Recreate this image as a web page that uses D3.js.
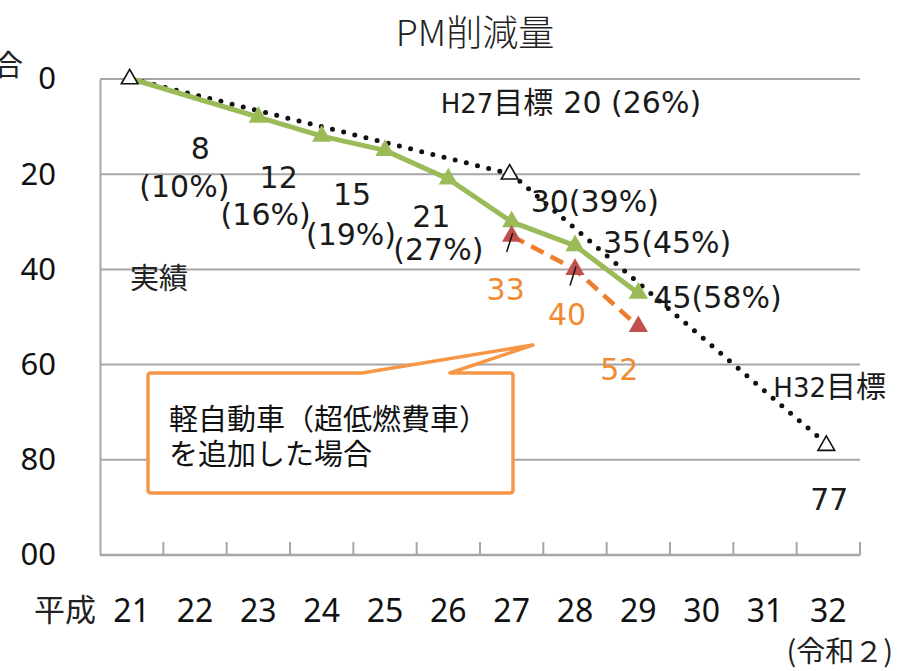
<!DOCTYPE html>
<html>
<head>
<meta charset="utf-8">
<script src="https://cdn.jsdelivr.net/npm/d3@7/dist/d3.min.js"></script>
<style>
  html, body { margin: 0; padding: 0; background: #fff; }
  svg { display: block; }
</style>
</head>
<body>
<main></main>
<script>
// PM reduction chart (H21 - H32)
const years = ['21', '22', '23', '24', '25', '26', '27', '28', '29', '30', '31', '32'];
const actual = [0, null, 8, 12, 15, 21, 30, 35, 45, null, null, null];
const withKei = [null, null, null, null, null, null, 33, 40, 52, null, null, null];
const target = [0, null, null, null, null, null, 20, null, null, null, null, 77];
const yTicks = [0, 20, 40, 60, 80, 100];

// value labels: [year, value, text]
const actualLabels = [
  ['23', 8, '8', '(10%)'],
  ['24', 12, '12', '(16%)'],
  ['25', 15, '15', '(19%)'],
  ['26', 21, '21', '(27%)']
];
const actualLabelsRight = [
  ['27', 30, '30(39%)'],
  ['28', 35, '35(45%)'],
  ['29', 45, '45(58%)']
];
const keiLabels = [['27', 33, '33'], ['28', 40, '40'], ['29', 52, '52']];

const WIDTH = 897, HEIGHT = 671;
const plot = { left: 100, right: 860, top: 79, bottom: 555 };

const NUM_FONT = '"DejaVu Sans", "Noto Sans CJK JP", sans-serif';
const JP_FONT = '"Noto Sans CJK JP", "Noto Sans", sans-serif';
const TICK_FONT = '"Noto Sans", "Noto Sans CJK JP", sans-serif';

const GREEN = '#9bbb59', RED = '#c0504d', ORANGE = '#ee7d2c', ORANGE_TXT = '#f08a33', GRID = '#a6a6a6';

const svg = d3.select('main')
  .append('svg')
  .attr('width', WIDTH)
  .attr('height', HEIGHT);

const x = d3.scaleBand()
  .domain(years)
  .range([plot.left, plot.right]);
const cx = d => x(d) + x.bandwidth() / 2;

const y = d3.scaleLinear()
  .domain([0, 100])
  .range([plot.top, plot.bottom]);

// left side is cropped in the original picture (clip in y-axis group coords)
svg.append('defs').append('clipPath')
  .attr('id', 'leftcrop')
  .append('rect')
  .attr('x', 17 - plot.left).attr('y', -20).attr('width', 90).attr('height', HEIGHT + 40);

// gridlines
svg.append('g')
  .selectAll('line')
  .data(yTicks.filter(d => d < 100))
  .enter()
  .append('line')
  .attr('x1', plot.left).attr('x2', plot.right)
  .attr('y1', d => y(d)).attr('y2', d => y(d))
  .attr('stroke', GRID)
  .attr('stroke-width', 2);

// y axis
const yAxis = svg.append('g')
  .attr('transform', `translate(${plot.left},0)`)
  .attr('clip-path', 'url(#leftcrop)')
  .call(d3.axisLeft(y).tickValues(yTicks).tickSize(0).tickPadding(44));
yAxis.select('.domain').attr('stroke', GRID).attr('stroke-width', 2);
yAxis.selectAll('text')
  .attr('font-family', TICK_FONT)
  .attr('font-size', 31)
  .attr('fill', '#111');

// x axis with inward ticks at band edges
const xAxis = svg.append('g')
  .attr('transform', `translate(0,${plot.bottom})`);
xAxis.append('line')
  .attr('x1', plot.left).attr('x2', plot.right)
  .attr('stroke', GRID).attr('stroke-width', 2.5);
xAxis.selectAll('line.tick')
  .data(years.slice(1).concat(['end']))
  .enter()
  .append('line')
  .attr('class', 'tick')
  .attr('x1', d => d === 'end' ? plot.right : x(d))
  .attr('x2', d => d === 'end' ? plot.right : x(d))
  .attr('y1', 0).attr('y2', -13)
  .attr('stroke', GRID).attr('stroke-width', 2);
xAxis.selectAll('text')
  .data(years)
  .enter()
  .append('text')
  .attr('x', d => cx(d))
  .attr('y', 67)
  .attr('text-anchor', 'middle')
  .attr('font-family', TICK_FONT)
  .attr('font-size', 32)
  .attr('fill', '#111')
  .text(d => d);

svg.append('text')
  .attr('x', 96).attr('y', 621)
  .attr('text-anchor', 'end')
  .attr('font-family', JP_FONT)
  .attr('font-size', 31)
  .attr('fill', '#222')
  .text('平成');

svg.append('text')
  .attr('x', 893).attr('y', 662)
  .attr('text-anchor', 'end')
  .attr('font-family', JP_FONT)
  .attr('font-size', 29)
  .attr('fill', '#222')
  .text('(令和２)');

// cropped axis caption at top left
svg.append('text')
  .attr('x', -6).attr('y', 76)
  .attr('font-family', JP_FONT)
  .attr('font-size', 29)
  .attr('fill', '#222')
  .text('合');

// title
svg.append('text')
  .attr('x', 475).attr('y', 46)
  .attr('text-anchor', 'middle')
  .attr('font-family', JP_FONT)
  .attr('font-weight', 300)
  .attr('font-size', 36)
  .attr('fill', '#222')
  .text('PM削減量');

const toPoints = arr => years.map((yr, i) => ({ yr, v: arr[i] })).filter(d => d.v !== null);

const line = d3.line()
  .x(d => cx(d.yr))
  .y(d => y(d.v));

// target dotted line
svg.append('path')
  .datum(toPoints(target))
  .attr('d', line)
  .attr('fill', 'none')
  .attr('stroke', '#111')
  .attr('stroke-width', 5)
  .attr('stroke-linecap', 'round')
  .attr('stroke-dasharray', '0 11.5');

// actual green line
svg.append('path')
  .datum(toPoints(actual))
  .attr('d', line)
  .attr('fill', 'none')
  .attr('stroke', GREEN)
  .attr('stroke-width', 5)
  .attr('stroke-linejoin', 'round');

// orange dashed (kei cars added)
svg.append('path')
  .datum(toPoints(withKei))
  .attr('d', line)
  .attr('fill', 'none')
  .attr('stroke', ORANGE)
  .attr('stroke-width', 4.5)
  .attr('stroke-dasharray', '14 8');

const tri = d3.symbol().type(d3.symbolTriangle);

svg.append('g')
  .selectAll('path')
  .data(toPoints(actual).slice(1))
  .enter()
  .append('path')
  .attr('d', tri.size(160)())
  .attr('transform', d => `translate(${cx(d.yr)},${y(d.v)})`)
  .attr('fill', GREEN);

svg.append('g')
  .selectAll('path')
  .data(toPoints(withKei))
  .enter()
  .append('path')
  .attr('d', tri.size(160)())
  .attr('transform', d => `translate(${cx(d.yr)},${y(d.v)})`)
  .attr('fill', RED);

svg.append('g')
  .selectAll('path')
  .data(toPoints(target))
  .enter()
  .append('path')
  .attr('d', tri.size(120)())
  .attr('transform', d => `translate(${cx(d.yr) - 2},${y(d.v)})`)
  .attr('fill', '#fff')
  .attr('stroke', '#111')
  .attr('stroke-width', 1.6);

// label leader ticks on the orange markers
svg.append('g')
  .selectAll('line')
  .data(keiLabels.slice(0, 2))
  .enter()
  .append('line')
  .attr('x1', d => cx(d[0]) - 5).attr('y1', d => y(d[1]) + 16)
  .attr('x2', d => cx(d[0]) + 1).attr('y2', d => y(d[1]) - 3)
  .attr('stroke', '#111')
  .attr('stroke-width', 1.5);

// value labels
const labelOffsets = [[-58, 42, -74, 80], [-43, 52, -56, 89], [-33, 55, -34, 95], [-17, 48, -10, 81]];
const lblG = svg.append('g')
  .attr('font-family', NUM_FONT)
  .attr('font-size', 30)
  .attr('fill', '#1a1a1a')
  .attr('text-anchor', 'middle');
actualLabels.forEach((d, i) => {
  const o = labelOffsets[i];
  lblG.append('text')
    .attr('x', cx(d[0]) + o[0]).attr('y', y(d[1]) + o[1])
    .text(d[2]);
  lblG.append('text')
    .attr('x', cx(d[0]) + o[2]).attr('y', y(d[1]) + o[3])
    .text(d[3]);
});

const rightOffsets = [[19, -10], [28, 7], [15, 15]];
svg.append('g')
  .selectAll('text')
  .data(actualLabelsRight)
  .enter()
  .append('text')
  .attr('x', (d, i) => cx(d[0]) + rightOffsets[i][0])
  .attr('y', (d, i) => y(d[1]) + rightOffsets[i][1])
  .attr('font-family', NUM_FONT)
  .attr('font-size', 30)
  .attr('fill', '#1a1a1a')
  .text(d => d[2]);

const keiOffsets = [[-6, 64], [-8, 56], [-19, 53]];
svg.append('g')
  .selectAll('text')
  .data(keiLabels)
  .enter()
  .append('text')
  .attr('x', (d, i) => cx(d[0]) + keiOffsets[i][0])
  .attr('y', (d, i) => y(d[1]) + keiOffsets[i][1])
  .attr('text-anchor', 'middle')
  .attr('font-family', NUM_FONT)
  .attr('font-size', 30)
  .attr('fill', ORANGE_TXT)
  .text(d => d[2]);

// target labels
const h27 = svg.append('text')
  .attr('x', cx('27') - 71).attr('y', y(20) - 61)
  .attr('font-family', NUM_FONT)
  .attr('fill', '#1a1a1a');
h27.append('tspan').attr('font-size', 26).text('H27');
h27.append('tspan').attr('font-size', 30).attr('font-family', JP_FONT).text('目標');
h27.append('tspan').attr('font-size', 30).attr('dx', 10).text('20 (26%)');

const h32 = svg.append('text')
  .attr('x', cx('32') - 55).attr('y', y(77) - 49)
  .attr('font-family', NUM_FONT)
  .attr('fill', '#1a1a1a');
h32.append('tspan').attr('font-size', 26).text('H32');
h32.append('tspan').attr('font-size', 30).attr('font-family', JP_FONT).text('目標');

svg.append('text')
  .attr('x', cx('32') + 1).attr('y', y(77) + 64)
  .attr('text-anchor', 'middle')
  .attr('font-family', NUM_FONT)
  .attr('font-size', 30)
  .attr('fill', '#1a1a1a')
  .text('77');

svg.append('text')
  .attr('x', 130).attr('y', 289)
  .attr('font-family', JP_FONT)
  .attr('font-size', 29)
  .attr('fill', '#222')
  .text('実績');

// callout box
const box = { x0: 148, y0: 373, x1: 513, y1: 493, r: 3, p0: 362, p1: 450, tipX: 533, tipY: 345 };
const callout = d3.path();
callout.moveTo(box.x0 + box.r, box.y0);
callout.lineTo(box.p0, box.y0);
callout.lineTo(box.tipX, box.tipY);
callout.lineTo(box.p1, box.y0);
callout.lineTo(box.x1 - box.r, box.y0);
callout.quadraticCurveTo(box.x1, box.y0, box.x1, box.y0 + box.r);
callout.lineTo(box.x1, box.y1 - box.r);
callout.quadraticCurveTo(box.x1, box.y1, box.x1 - box.r, box.y1);
callout.lineTo(box.x0 + box.r, box.y1);
callout.quadraticCurveTo(box.x0, box.y1, box.x0, box.y1 - box.r);
callout.lineTo(box.x0, box.y0 + box.r);
callout.quadraticCurveTo(box.x0, box.y0, box.x0 + box.r, box.y0);
callout.closePath();

svg.append('path')
  .attr('d', callout.toString())
  .attr('fill', '#fff')
  .attr('stroke', '#f79646')
  .attr('stroke-width', 3.5)
  .attr('stroke-linejoin', 'round');

svg.append('g')
  .selectAll('text')
  .data(['軽自動車（超低燃費車）', 'を追加した場合'])
  .enter()
  .append('text')
  .attr('x', 169)
  .attr('y', (d, i) => 430 + i * 35)
  .attr('font-family', JP_FONT)
  .attr('font-size', 29)
  .attr('fill', '#111')
  .text(d => d);
</script>
</body>
</html>
